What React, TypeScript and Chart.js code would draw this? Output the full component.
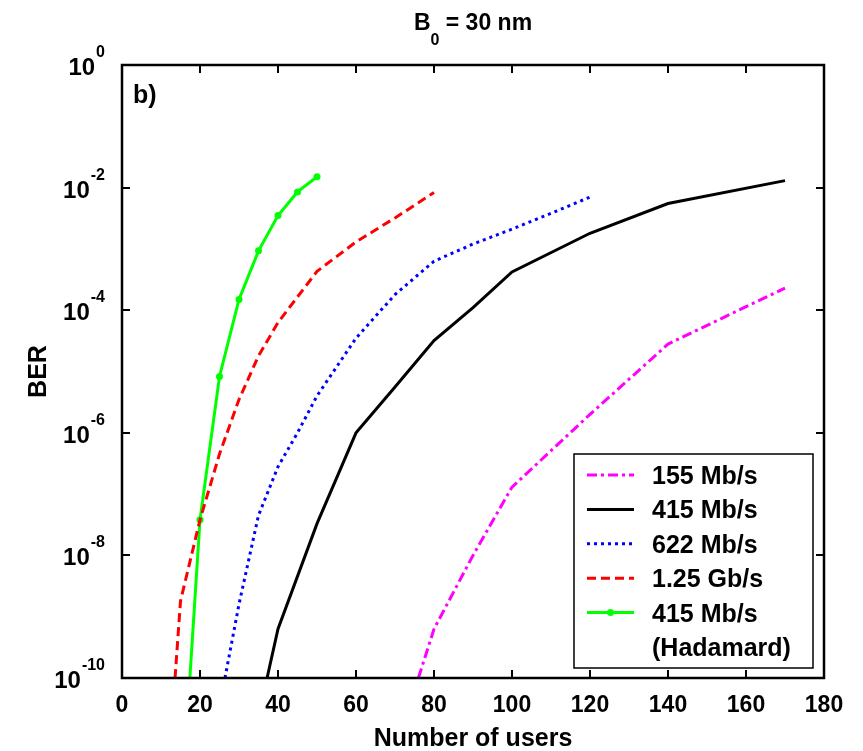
import React, { useEffect, useRef } from "react";
import { Chart, registerables } from "chart.js";

Chart.register(...registerables);

// ---- data ----
const xTicks = [0, 20, 40, 60, 80, 100, 120, 140, 160, 180];
const yTickExponents = [0, -2, -4, -6, -8, -10];

const users155 = [76, 80, 90, 100, 120, 140, 170];
const ber155 = [1e-10, 6.3e-10, 1e-8, 1.3e-7, 2e-6, 2.8e-5, 2.3e-4];

const users415 = [37.2, 40, 50, 60, 70, 80, 90, 100, 120, 140, 170];
const ber415 = [1e-10, 6.3e-10, 3.3e-8, 1e-6, 5.6e-6, 3.2e-5, 1.1e-4, 4.2e-4, 1.8e-3, 5.5e-3, 1.3e-2];

const users622 = [26.4, 30, 35, 40, 45, 50, 60, 70, 80, 90, 100, 110, 120];
const ber622 = [1e-10, 1.6e-9, 4.5e-8, 2.8e-7, 1e-6, 4e-6, 3.5e-5, 1.8e-4, 6.3e-4, 1.2e-3, 2.1e-3, 3.8e-3, 7e-3];

const users125 = [13.6, 15, 20, 25, 30, 35, 40, 50, 60, 70, 80];
const ber125 = [1e-10, 1.8e-9, 3.8e-8, 4.5e-7, 3.5e-6, 1.8e-5, 6.3e-5, 4.3e-4, 1.3e-3, 3.2e-3, 8.3e-3];

const usersHad = [17.4, 20, 25, 30, 35, 40, 45, 50];
const berHad = [1e-10, 3.8e-8, 8.3e-6, 1.5e-4, 9.3e-4, 3.5e-3, 8.5e-3, 1.5e-2];

const legendLines = [["155 Mb/s"], ["415 Mb/s"], ["622 Mb/s"], ["1.25 Gb/s"], ["415 Mb/s", "(Hadamard)"]];

const FONT = 'Arial, "Liberation Sans", Helvetica, sans-serif';
const W = "bold";

const zip = (xs: number[], ys: number[]) => xs.map((x, i) => ({ x, y: ys[i] }));

const decorPlugin = {
  id: "decor",
  afterDraw(chart: any) {
    const { ctx, chartArea: a, scales } = chart;
    const xs = scales.x;
    const ys = scales.y;
    ctx.save();
    const line = (x1: number, y1: number, x2: number, y2: number) => {
      ctx.beginPath();
      ctx.moveTo(x1, y1);
      ctx.lineTo(x2, y2);
      ctx.stroke();
    };
    ctx.strokeStyle = "#000";
    ctx.fillStyle = "#000";
    ctx.setLineDash([]);
    // ticks
    ctx.lineWidth = 2;
    const tl = 8;
    xTicks.forEach((v) => {
      const px = Math.round(xs.getPixelForValue(v));
      line(px, a.bottom, px, a.bottom - tl);
      line(px, a.top, px, a.top + tl);
    });
    yTickExponents.forEach((e) => {
      const py = Math.round(ys.getPixelForValue(Math.pow(10, e)));
      line(a.left, py, a.left + tl, py);
      line(a.right, py, a.right - tl, py);
    });
    // border
    ctx.lineWidth = 2.5;
    ctx.strokeRect(a.left, a.top, a.right - a.left, a.bottom - a.top);

    // x tick labels
    ctx.font = `${W} 23px ${FONT}`;
    ctx.textAlign = "center";
    ctx.textBaseline = "alphabetic";
    xTicks.forEach((v) => {
      const px = xs.getPixelForValue(v);
      ctx.fillText(String(v), px, a.bottom + 34);
    });

    // y tick labels 10^e
    const rightEdge = a.left - 17;
    yTickExponents.forEach((e) => {
      const py = ys.getPixelForValue(Math.pow(10, e));
      ctx.font = `${W} 16px ${FONT}`;
      const sup = String(e);
      const supW = ctx.measureText(sup).width;
      ctx.font = `${W} 24px ${FONT}`;
      const baseW = ctx.measureText("10").width;
      const x0 = rightEdge - supW - baseW - 1;
      ctx.textAlign = "left";
      ctx.fillText("10", x0, py + 10);
      ctx.font = `${W} 16px ${FONT}`;
      ctx.fillText(sup, x0 + baseW + 1, py - 8);
    });

    // title  B0 = 30 nm
    const cx = (a.left + a.right) / 2;
    ctx.font = `${W} 23px ${FONT}`;
    const wB = ctx.measureText("B").width;
    const wRest = ctx.measureText(" = 30 nm").width;
    ctx.font = `${W} 16px ${FONT}`;
    const wSub = ctx.measureText("0").width;
    const tx = cx - (wB + wSub + wRest) / 2;
    ctx.textAlign = "left";
    ctx.font = `${W} 23px ${FONT}`;
    ctx.fillText("B", tx, 30);
    ctx.font = `${W} 16px ${FONT}`;
    ctx.fillText("0", tx + wB, 45);
    ctx.font = `${W} 23px ${FONT}`;
    ctx.fillText(" = 30 nm", tx + wB + wSub, 30);

    // axis titles
    ctx.font = `${W} 25px ${FONT}`;
    ctx.textAlign = "center";
    ctx.fillText("Number of users", cx, a.bottom + 68);
    ctx.save();
    ctx.translate(46, (a.top + a.bottom) / 2);
    ctx.rotate(-Math.PI / 2);
    ctx.fillText("BER", 0, 0);
    ctx.restore();

    // panel label
    ctx.textAlign = "left";
    ctx.fillText("b)", a.left + 11, a.top + 38);

    // legend
    const lx = 574, ly = 454, lw = 239, lh = 214;
    ctx.fillStyle = "#fff";
    ctx.fillRect(lx, ly, lw, lh);
    ctx.lineWidth = 1.5;
    ctx.strokeStyle = "#000";
    ctx.strokeRect(lx, ly, lw, lh);
    let row = 0;
    const pitch = 34.4;
    const firstY = 475;
    chart.data.datasets.forEach((ds: any, i: number) => {
      const y = firstY + row * pitch;
      ctx.strokeStyle = ds.borderColor;
      ctx.lineWidth = ds.borderWidth;
      ctx.setLineDash(ds.borderDash || []);
      line(587, y, 634, y);
      ctx.setLineDash([]);
      if (ds.legendMarker) {
        ctx.fillStyle = ds.borderColor;
        ctx.beginPath();
        ctx.arc(610.5, y, 3.5, 0, Math.PI * 2);
        ctx.fill();
      }
      ctx.fillStyle = "#000";
      ctx.font = `${W} 25px ${FONT}`;
      legendLines[i].forEach((t) => {
        const yy = firstY + row * pitch;
        ctx.fillText(t, 652, yy + 9);
        row++;
      });
    });
    ctx.restore();
  },
};

export default function App() {
  const ref = useRef<HTMLCanvasElement | null>(null);
  useEffect(() => {
    document.body.style.margin = "0";
    if (!ref.current) return;
    const chart = new Chart(ref.current, {
      type: "line",
      data: {
        datasets: [
          {
            label: "155 Mb/s",
            data: zip(users155, ber155),
            borderColor: "#ff00ff",
            borderWidth: 3,
            borderDash: [10, 4, 3, 4],
            pointRadius: 0,
          },
          {
            label: "415 Mb/s",
            data: zip(users415, ber415),
            borderColor: "#000000",
            borderWidth: 3,
            pointRadius: 0,
          },
          {
            label: "622 Mb/s",
            data: zip(users622, ber622),
            borderColor: "#0000ff",
            borderWidth: 3,
            borderDash: [3, 4],
            pointRadius: 0,
          },
          {
            label: "1.25 Gb/s",
            data: zip(users125, ber125),
            borderColor: "#ff0000",
            borderWidth: 3,
            borderDash: [9, 5],
            pointRadius: 0,
          },
          {
            label: "415 Mb/s (Hadamard)",
            data: zip(usersHad, berHad),
            borderColor: "#00ff00",
            backgroundColor: "#00ff00",
            borderWidth: 3,
            pointRadius: (c: any) => (c.raw && c.raw.y > 1e-10 ? 3.5 : 0),
            pointBorderWidth: 0,
            legendMarker: true,
          } as any,
        ],
      },
      options: {
        animation: false,
        responsive: false,
        devicePixelRatio: 1,
        layout: { padding: { left: 122, right: 39, top: 65, bottom: 73 } },
        elements: { line: { tension: 0, fill: false } },
        scales: {
          x: { type: "linear", min: 0, max: 180, display: false },
          y: { type: "logarithmic", min: 1e-10, max: 1, display: false },
        },
        plugins: { legend: { display: false }, tooltip: { enabled: false }, title: { display: false } },
      },
      plugins: [decorPlugin],
    } as any);
    return () => chart.destroy();
  }, []);
  return (
    <div style={{ width: 863, height: 751, background: "#fff" }}>
      <canvas ref={ref} width={863} height={751} style={{ display: "block" }} />
    </div>
  );
}
